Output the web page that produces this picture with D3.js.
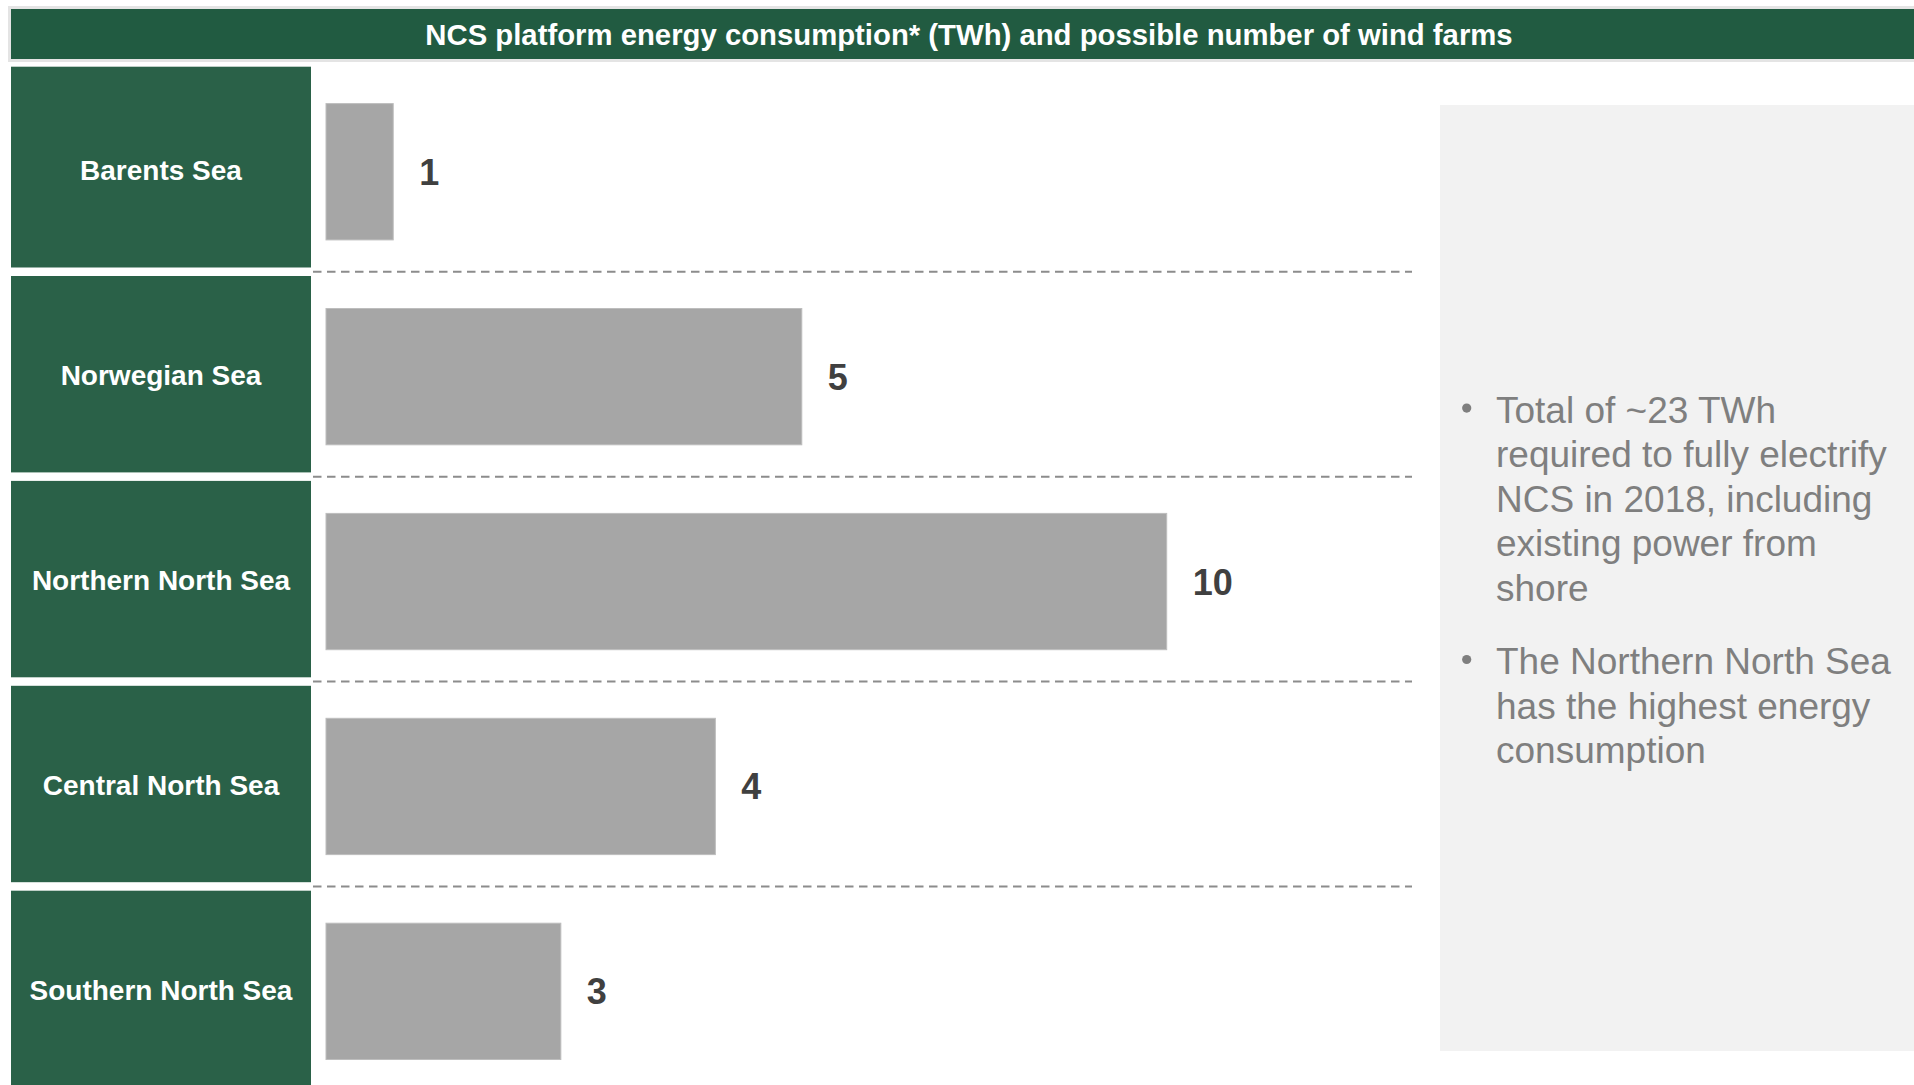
<!DOCTYPE html>
<html>
<head>
<meta charset="utf-8">
<script src="https://cdn.jsdelivr.net/npm/d3@7"></script>
<style>
  html, body { margin: 0; padding: 0; background: #ffffff; }
  svg { display: block; font-family: "Liberation Sans", Arial, sans-serif; }
</style>
</head>
<body>
<svg id="chart" width="1914" height="1085"></svg>
<script>
// Regions of the Norwegian Continental Shelf
const categories = ["Barents Sea", "Norwegian Sea", "Northern North Sea", "Central North Sea", "Southern North Sea"];
// Platform energy consumption per region (TWh)
const energyTWh = [0.77, 5.45, 9.63, 4.46, 2.69];
// Possible number of wind farms per region
const windFarms = [1, 5, 10, 4, 3];

const chartTitle = "NCS platform energy consumption* (TWh) and possible number of wind farms";
const bulletPoints = [
  ["Total of ~23 TWh", "required to fully electrify", "NCS in 2018, including", "existing power from", "shore"],
  ["The Northern North Sea", "has the highest energy", "consumption"]
];

const W = 1914, H = 1085;
const svg = d3.select("#chart");

// Header band
svg.append("rect").attr("x", 8).attr("y", 6).attr("width", W - 8).attr("height", 56).attr("fill", "#e4e4e4");
svg.append("rect").attr("x", 11).attr("y", 9).attr("width", W - 11).attr("height", 50).attr("fill", "#215b41");
svg.append("text")
  .attr("x", 969).attr("y", 44.5)
  .attr("text-anchor", "middle")
  .attr("fill", "#ffffff")
  .attr("font-weight", "bold")
  .attr("font-size", 29.3)
  .text(chartTitle);

// Scales
const y = d3.scaleBand()
  .domain(categories)
  .range([71.1, 71.1 + 204.9 * (categories.length - 0.0415)])
  .paddingInner(0.0415)
  .paddingOuter(0);

const x = d3.scaleLinear().domain([0, 10]).range([326, 1199]);

const rows = categories.map((c, i) => ({ name: c, twh: energyTWh[i], farms: windFarms[i], i }));

// Commentary panel
svg.append("rect").attr("x", 1440).attr("y", 105).attr("width", W - 1440).attr("height", 946).attr("fill", "#f2f2f2");

// Dashed separators between rows
svg.append("g").selectAll("line")
  .data(categories.slice(1))
  .join("line")
  .attr("x1", 313).attr("x2", 1412)
  .attr("y1", d => y(d) - y.step() * y.paddingInner() / 2)
  .attr("y2", d => y(d) - y.step() * y.paddingInner() / 2)
  .attr("stroke", "#8c8c8c")
  .attr("stroke-width", 2)
  .attr("stroke-dasharray", "8.5,5.5");

// Region label boxes
const boxes = svg.append("g");
boxes.selectAll("rect")
  .data(rows)
  .join("rect")
  .attr("x", 11)
  .attr("y", d => d.i === 0 ? y(d.name) - 4.4 : y(d.name))
  .attr("width", 300)
  .attr("height", d => d.i === 0 ? y.bandwidth() + 4.4 : y.bandwidth())
  .attr("fill", "#2a6148");
boxes.selectAll("text")
  .data(rows)
  .join("text")
  .attr("x", 161)
  .attr("y", d => y(d.name) + y.bandwidth() / 2 + 1)
  .attr("dy", "0.36em")
  .attr("text-anchor", "middle")
  .attr("fill", "#ffffff")
  .attr("font-weight", "bold")
  .attr("font-size", 28)
  .text(d => d.name);

// Bars (energy consumption)
const barTop = d => y(d.name) + y.bandwidth() * 0.1655;
const barH = y.bandwidth() * 0.694;
svg.append("g").selectAll("rect")
  .data(rows)
  .join("rect")
  .attr("x", x(0))
  .attr("y", barTop)
  .attr("width", d => x(d.twh) - x(0))
  .attr("height", barH)
  .attr("fill", "#a6a6a6")
  .attr("stroke", "#bdbdbd")
  .attr("stroke-width", 1);

// Wind farm counts
svg.append("g").selectAll("text")
  .data(rows)
  .join("text")
  .attr("x", d => x(d.twh) + 26)
  .attr("y", d => barTop(d) + barH / 2)
  .attr("dy", "0.36em")
  .attr("fill", "#404040")
  .attr("font-weight", "bold")
  .attr("font-size", 36)
  .text(d => d.farms);

// Bullet commentary
const lineH = 44.6, paraGap = 28.4;
let baseY = 422.6;
const notes = svg.append("g").attr("fill", "#7f7f7f").attr("font-size", 37);
bulletPoints.forEach(lines => {
  notes.append("circle").attr("cx", 1466.7).attr("cy", baseY - 14.5).attr("r", 4.6);
  lines.forEach((ln, k) => {
    notes.append("text").attr("x", 1496).attr("y", baseY + k * lineH).text(ln);
  });
  baseY += lines.length * lineH + paraGap;
});
</script>
</body>
</html>
